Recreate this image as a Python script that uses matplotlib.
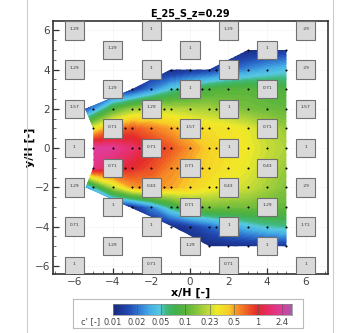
import numpy as np
import matplotlib
matplotlib.use('Agg')
import matplotlib.pyplot as plt
from matplotlib.colors import LinearSegmentedColormap
from matplotlib.patches import Polygon, Rectangle
from matplotlib.path import Path
from matplotlib.ticker import MultipleLocator
from matplotlib.lines import Line2D

# colour levels of the legend (c' [-])
levels = [0.01, 0.02, 0.05, 0.1, 0.23, 0.5, 1, 2.4]
level_labels = ['0.01', '0.02', '0.05', '0.1', '0.23', '0.5', '1', '2.4']

# concentration, rows from y=5 down to y=-5
grid_x = [-5.5, -5, -4, -3, -2, -1, 0, 1, 2, 3, 4, 5]
grid_y = [5, 4, 3, 2, 1, 0, -1, -2, -3, -4, -5]
conc = [
    [0.01, 0.01, 0.01, 0.01, 0.01, 0.01, 0.01, 0.01, 0.01, 0.01, 0.0115, 0.0123],
    [0.01, 0.01, 0.01, 0.01, 0.01, 0.01, 0.0115, 0.013, 0.018, 0.024, 0.032, 0.04],
    [0.01, 0.01, 0.01, 0.012, 0.022, 0.045, 0.065, 0.085, 0.095, 0.1, 0.093, 0.087],
    [0.014, 0.024, 0.087, 0.16, 0.21, 0.21, 0.19, 0.18, 0.15, 0.128, 0.117, 0.11],
    [0.15, 0.29, 0.58, 0.76, 0.62, 0.5, 0.40, 0.34, 0.32, 0.27, 0.21, 0.16],
    [2.9, 2.6, 2.2, 1.5, 1.0, 0.76, 0.54, 0.40, 0.34, 0.29, 0.23, 0.19],
    [0.9, 1.8, 1.3, 1.0, 0.8, 0.58, 0.46, 0.37, 0.32, 0.27, 0.21, 0.16],
    [0.02, 0.05, 0.19, 0.5, 0.58, 0.5, 0.40, 0.32, 0.27, 0.23, 0.18, 0.14],
    [0.01, 0.01, 0.01, 0.0115, 0.022, 0.06, 0.11, 0.13, 0.125, 0.125, 0.117, 0.11],
    [0.01, 0.01, 0.01, 0.01, 0.01, 0.01, 0.013, 0.018, 0.028, 0.038, 0.05, 0.055],
    [0.01, 0.01, 0.01, 0.01, 0.01, 0.01, 0.01, 0.01, 0.0105, 0.011, 0.0115, 0.0123],
]

# outline of the measured area
area_x = [-5.43, -3, -1, 1, 3, 5, 5, 1, 0, -1, -2, -5.4, -5, -5]
area_y = [2, 3, 4, 4, 5, 5, -5, -5, -4.45, -3.95, -3.5, -2, -1, 1]

# probe positions along the rows
probe_x_even = [-5, -4, -3, -2.65, -1.35, -1, 0, 1, 1.35, 3, 4, 5]
probe_x_odd = [-5, -3.35, -3, -2, -1, -0.65, 0.65, 1, 2, 3, 5]
probe_rows = [5, 4, 3, 2, 1, 0, -1, -2, -3, -4, -5]

# buildings and their labels
bld_x = [-6] * 7 + [-4] * 6 + [-2] * 7 + [0] * 6 + [2] * 7 + [4] * 6 + [6] * 7
bld_y = ([6, 4, 2, 0, -2, -4, -6] + [5, 3, 1, -1, -3, -5]) * 3 + [6, 4, 2, 0, -2, -4, -6]
bld_lab = ['1.29', '1.29', '1.57', '1', '1.29', '0.71', '1',
           '1.29', '1.29', '0.71', '0.71', '1', '1.29',
           '1', '1', '1.29', '0.71', '0.43', '1', '0.71',
           '1', '1', '1.57', '0.71', '0.71', '1.29',
           '1.29', '1', '1', '1', '0.43', '1', '0.71',
           '1', '0.71', '0.71', '0.43', '1.29', '1',
           '.29', '.29', '1.57', '1', '.29', '1.71', '1']

# colour map in "level index" space (0 -> 0.01 ... 7 -> 2.4)
nodes = [(0.0, '#1a2a80'), (0.6, '#2048b0'), (1.0, '#2f74cf'), (1.5, '#45aee6'),
         (1.9, '#58c8e0'), (2.2, '#3fb87a'), (2.6, '#45b04a'), (3.0, '#58b43c'),
         (3.5, '#8cc63c'), (4.0, '#c8dc38'), (4.3, '#f0ea28'), (4.8, '#f8cc28'),
         (5.0, '#f8a428'), (5.5, '#f06424'), (6.0, '#e4282c'), (6.5, '#e6306e'),
         (7.0, '#e03c9c'), (7.4, '#a85aa8')]
tmax = 7.4
cmap = LinearSegmentedColormap.from_list('tec', [(t / tmax, c) for t, c in nodes])


def to_index(c):
    return np.interp(np.log10(c), np.log10(levels), np.arange(len(levels)))


T = to_index(np.array(conc))

fig = plt.figure(figsize=(3.44, 3.33), dpi=100)
ax = fig.add_axes([0.154, 0.177, 0.799, 0.760])

ax.set_axisbelow(True)
ax.grid(True, color='#e4e4e4', lw=0.5, ls=':')
fill_levels = np.linspace(0, tmax, 75)
cs = ax.contourf(grid_x, grid_y, T, levels=fill_levels, cmap=cmap, zorder=1)
area = Polygon(np.column_stack([area_x, area_y]), closed=True, fc='none', ec='none')
ax.add_patch(area)
cs.set_clip_path(area)

# probes inside the area
area_path = Path(np.column_stack([area_x, area_y]))
px, py = [], []
for yr in probe_rows:
    row = probe_x_even if yr % 2 == 0 else probe_x_odd
    for xp in row:
        px.append(xp)
        py.append(yr)
px = np.array(px)
py = np.array(py)
inside = area_path.contains_points(np.column_stack([px, py]), radius=0.12) | \
    area_path.contains_points(np.column_stack([px, py]), radius=-0.12)
ax.plot(px[inside], py[inside], 'o', color='black', ms=1.5, mew=0, zorder=3)

for xb, yb, lab in zip(bld_x, bld_y, bld_lab):
    ax.add_patch(Rectangle((xb - 0.5, yb - 0.47), 1.0, 0.94, fc='#d9d9d9',
                           ec='#707070', lw=0.8, zorder=4))
    ax.text(xb, yb + 0.08, lab, fontsize=3.2, color='#333333', ha='center',
            va='center', zorder=5, clip_on=True)

ax.set_xlim(-7.1, 7.15)
ax.set_ylim(-6.42, 6.48)
ax.set_xticks([-6, -4, -2, 0, 2, 4, 6])
ax.set_yticks([-6, -4, -2, 0, 2, 4, 6])
ax.xaxis.set_minor_locator(MultipleLocator(0.5))
ax.yaxis.set_minor_locator(MultipleLocator(0.5))
ax.tick_params(which='major', direction='in', length=4, width=0.9, labelsize=7.5,
               labelcolor='#444444', color='#333333', pad=2)
ax.tick_params(which='minor', direction='in', length=2, width=0.6, color='#555555')
for s in ax.spines.values():
    s.set_linewidth(1.2)
    s.set_color('#333333')
ax.set_title('E_25_S_z=0.29', fontsize=7, fontweight='bold', pad=3)
ax.set_xlabel('x/H [-]', fontsize=8, fontweight='bold', labelpad=1)
ax.set_ylabel('y/H [-]', fontsize=8, fontweight='bold', labelpad=0)

# legend box with colour bar
box = fig.add_axes([0.212, 0.015, 0.669, 0.087])
box.set_xticks([])
box.set_yticks([])
for s in box.spines.values():
    s.set_color('#bbbbbb')
    s.set_linewidth(0.8)

cax = fig.add_axes([0.328, 0.054, 0.520, 0.033])
bar = np.linspace(0, tmax, 300).reshape(1, -1)
cax.imshow(bar, aspect='auto', cmap=cmap, extent=[0, tmax, 0, 1], vmin=0, vmax=tmax)
for i in range(1, len(levels)):
    cax.axvline(i, color='#555555', lw=0.4)
cax.set_xlim(0, tmax)
cax.set_yticks([])
cax.set_xticks(np.arange(len(levels)))
cax.set_xticklabels(level_labels)
cax.tick_params(axis='x', length=0, labelsize=6, labelcolor='#444444', pad=2.5)
for s in cax.spines.values():
    s.set_linewidth(0.5)
    s.set_color('#888888')
fig.text(0.263, 0.033, "c' [-]", fontsize=6, color='#444444', ha='center', va='center')

# outer frame lines of the original figure
fig.add_artist(Line2D([0.079, 0.079], [0, 1], color='#cccccc', lw=0.8))
fig.add_artist(Line2D([0.968, 0.968], [0, 1], color='#cccccc', lw=0.8))

fig.savefig('out.png', dpi=100)
